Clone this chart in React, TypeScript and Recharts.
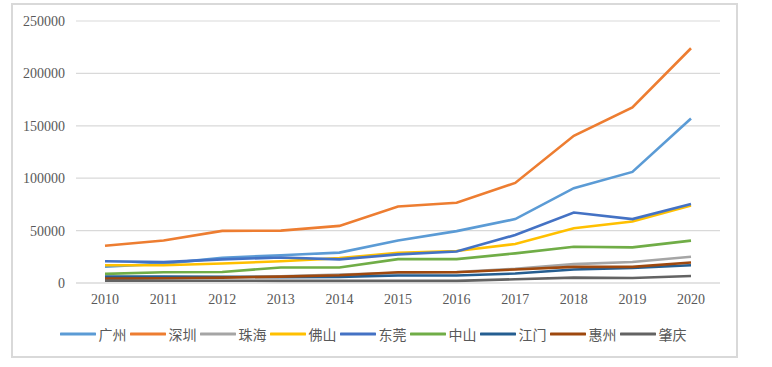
import React from "react";
import { LineChart, Line, XAxis, YAxis, CartesianGrid, Legend } from "recharts";

const years = ["2010", "2011", "2012", "2013", "2014", "2015", "2016", "2017", "2018", "2019", "2020"];
const yTicks = [0, 50000, 100000, 150000, 200000, 250000];

const guangzhou = [15500, 18500, 24000, 26500, 29000, 40500, 49500, 61000, 90500, 106000, 157000];
const shenzhen = [35500, 40500, 49700, 50000, 54500, 73000, 76500, 95500, 140500, 167500, 224000];
const zhuhai = [4000, 4500, 5500, 6500, 8000, 9500, 10500, 13500, 18000, 20000, 25000];
const foshan = [17000, 17000, 18600, 20800, 23700, 28800, 30500, 37200, 52300, 58700, 74000];
const dongguan = [20800, 19900, 22500, 24400, 22500, 27300, 30000, 45800, 67300, 61000, 75400];
const zhongshan = [8700, 10300, 10500, 14800, 14800, 22800, 22800, 28300, 34600, 34000, 40400];
const jiangmen = [6100, 6100, 6000, 5500, 5800, 7100, 7100, 9000, 12900, 14400, 17000];
const huizhou = [4200, 4600, 5100, 6100, 7400, 10300, 10300, 12900, 15400, 15400, 19600];
const zhaoqing = [2300, 2200, 2200, 2000, 2000, 2000, 2000, 3600, 5100, 4800, 6700];

const seriesNames = ["广州", "深圳", "珠海", "佛山", "东莞", "中山", "江门", "惠州", "肇庆"];
const seriesValues = [guangzhou, shenzhen, zhuhai, foshan, dongguan, zhongshan, jiangmen, huizhou, zhaoqing];
const seriesColors = ["#5B9BD5", "#ED7D31", "#A5A5A5", "#FFC000", "#4472C4", "#70AD47", "#255E91", "#9E480E", "#636363"];

const data = years.map((y, i) => {
  const row: Record<string, string | number> = { year: y };
  seriesNames.forEach((n, k) => {
    row[n] = seriesValues[k][i];
  });
  return row;
});

const LegendContent = () => (
  <div style={{ display: "flex", justifyContent: "center", alignItems: "center" }}>
    {seriesNames.map((n, k) => (
      <div key={n} style={{ display: "flex", alignItems: "center", width: 70 }}>
        <svg width={36} height={6} style={{ display: "block" }}>
          <line x1={1} y1={3} x2={35} y2={3} stroke={seriesColors[k]} strokeWidth={3} strokeLinecap="round" />
        </svg>
        <span
          style={{
            marginLeft: 3,
            fontFamily: "'Noto Sans CJK SC', sans-serif",
            fontSize: 14,
            color: "#595959",
            lineHeight: "16px",
          }}
        >
          {n}
        </span>
      </div>
    ))}
  </div>
);

export default function App() {
  const tickStyle = { fontFamily: "'Liberation Serif', serif", fontSize: 14, fill: "#595959" };
  return (
    <div style={{ position: "absolute", left: 0, top: 0, width: 772, height: 367, background: "#fff" }}>
      <LineChart
        width={772}
        height={367}
        data={data}
        margin={{ top: 21, right: 52, left: 0, bottom: 38 }}
      >
        <CartesianGrid vertical={false} stroke="#d9d9d9" strokeWidth={1.2} />
        <XAxis
          dataKey="year"
          padding={{ left: 29, right: 29 }}
          axisLine={{ stroke: "#d9d9d9", strokeWidth: 1.2 }}
          tickLine={false}
          tickSize={0}
          tickMargin={11}
          tick={tickStyle}
          interval={0}
          height={30}
        />
        <YAxis
          domain={[0, 250000]}
          ticks={yTicks}
          axisLine={false}
          tickLine={false}
          tickSize={0}
          tickMargin={11}
          width={76}
          tick={tickStyle}
          interval={0}
        />
        {seriesNames.map((n, k) => (
          <Line
            key={n}
            type="linear"
            dataKey={n}
            stroke={seriesColors[k]}
            strokeWidth={2.6}
            dot={false}
            activeDot={false}
            isAnimationActive={false}
          />
        ))}
        <Legend
          content={<LegendContent />}
          wrapperStyle={{ position: "absolute", top: 326, left: 0, width: 749, height: 16 }}
        />
      </LineChart>
      <div
        style={{
          position: "absolute",
          left: 11,
          top: 3,
          width: 727,
          height: 355,
          border: "2px solid #d9d9d9",
          boxSizing: "border-box",
          pointerEvents: "none",
        }}
      />
    </div>
  );
}
